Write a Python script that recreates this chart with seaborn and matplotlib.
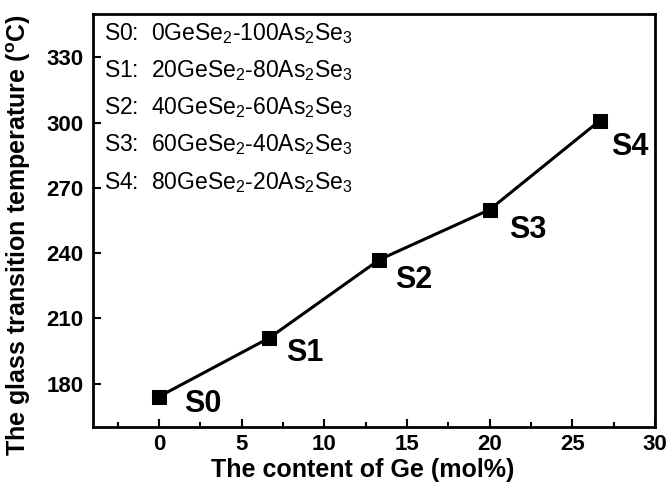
import matplotlib
matplotlib.use("Agg")
import matplotlib.pyplot as plt
import seaborn as sns
import pandas as pd
from matplotlib.ticker import MultipleLocator

# === Data === #
samples = ["S0", "S1", "S2", "S3", "S4"]
ge_content = [0, 6.67, 13.33, 20, 26.67]
tg = [174, 201, 237, 260, 301]
compositions = [
    r"S0:  0GeSe$_2$-100As$_2$Se$_3$",
    r"S1:  20GeSe$_2$-80As$_2$Se$_3$",
    r"S2:  40GeSe$_2$-60As$_2$Se$_3$",
    r"S3:  60GeSe$_2$-40As$_2$Se$_3$",
    r"S4:  80GeSe$_2$-20As$_2$Se$_3$",
]
label_offsets = [(18, -5), (12, -11), (11, -15), (14, -15), (8, -19)]

df = pd.DataFrame({"sample": samples, "ge": ge_content, "tg": tg})

# === Style === #
sns.set_style("ticks")
plt.rcParams["font.family"] = ["Liberation Sans", "DejaVu Sans"]
plt.rcParams["mathtext.fontset"] = "custom"
plt.rcParams["mathtext.rm"] = "Liberation Sans"
plt.rcParams["mathtext.bf"] = "Liberation Sans:bold"
plt.rcParams["mathtext.default"] = "regular"
for key in ["text.color", "axes.labelcolor", "xtick.color", "ytick.color", "axes.edgecolor"]:
    plt.rcParams[key] = "black"

fig = plt.figure(figsize=(6.71, 4.9), dpi=100)
ax = fig.add_axes([0.1386, 0.1286, 0.8375, 0.8428])

sns.lineplot(data=df, x="ge", y="tg", ax=ax, color="black", linewidth=2.2,
             marker="s", markersize=10.5, markeredgecolor="black")

for s, x, y, off in zip(samples, ge_content, tg, label_offsets):
    ax.annotate(s, (x, y), xytext=off, textcoords="offset points",
                ha="left", va="center", fontsize=22, fontweight="bold")

line_y = [0.952, 0.862, 0.773, 0.685, 0.593]
for txt, yy in zip(compositions, line_y):
    ax.text(0.02, yy, txt, transform=ax.transAxes, fontsize=16.5,
            ha="left", va="center")

ax.set_xlim(-4, 30)
ax.set_ylim(160, 350)
ax.xaxis.set_major_locator(MultipleLocator(5))
ax.xaxis.set_minor_locator(MultipleLocator(2.5))
ax.set_yticks([180, 210, 240, 270, 300, 330])

ax.tick_params(axis="both", which="major", direction="in", length=6, width=1.5,
               labelsize=16, pad=7)
ax.tick_params(axis="x", which="major", pad=5)
ax.tick_params(axis="x", which="minor", direction="in", length=3.5, width=1.5)
for lab in ax.get_xticklabels() + ax.get_yticklabels():
    lab.set_fontweight("bold")
for sp in ax.spines.values():
    sp.set_visible(True)
    sp.set_linewidth(2)

ax.set_xlabel("The content of Ge (mol%)", fontsize=18, fontweight="bold")
ax.set_ylabel(r"The glass transition temperature ($^{\mathbf{o}}$C)", fontsize=18,
              fontweight="bold")
ax.xaxis.set_label_coords(0.48, -0.076)
ax.yaxis.set_label_coords(-0.107, 0.465)

fig.savefig("out.png", dpi=100)
